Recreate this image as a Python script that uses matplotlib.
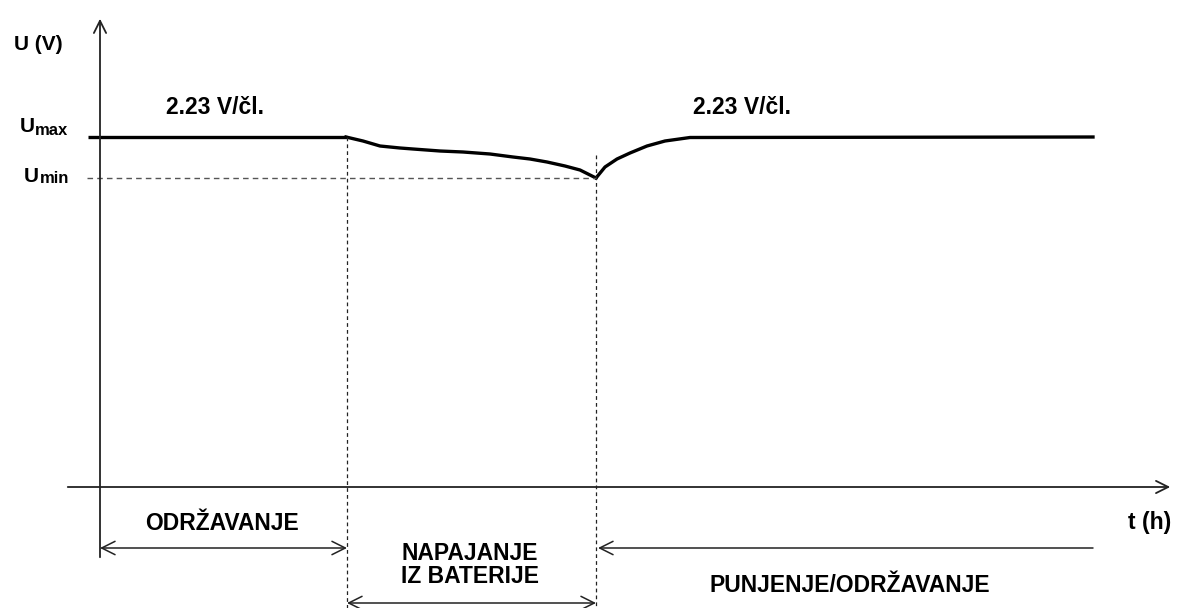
import numpy as np
from matplotlib import pyplot as plt

# schematic napona baterije: odrzavanje, napajanje iz baterije, punjenje
# jedinice su proizvoljne (1 jedinica ~ 1 piksel)

U_max = 350
U_min = 309

# granice faza na vremenskoj osi
t_granice = [0, 247, 496, 993]

# praznjenje (napajanje iz baterije)
t_praznjenje = [246, 263, 280, 300, 313, 340, 363, 390, 413, 430, 447, 465, 480, 496]
U_praznjenje = [350, 346, 341, 339, 338, 336, 335, 333, 330, 328, 325, 321, 317, 309]

# punjenje - oporavak napona
t_punjenje = [496, 505, 517, 530, 547, 565, 590, 993]
U_punjenje = [309, 320, 328, 334, 341, 346, 349.5, 350]

oznaka_napona = '2.23 V/čl.'

fig = plt.figure(figsize=(11.85, 6.08), dpi=100)
ax = fig.add_axes([0, 0, 1, 1])
ax.set_xlim(-100, 1085)
ax.set_ylim(-121, 487)
ax.axis('off')

font = 'Liberation Sans'
boja_osi = '#222222'

# osi sa strelicama
ax.annotate('', xy=(1073, 0), xytext=(-35, 0),
            arrowprops=dict(arrowstyle='->', color=boja_osi, lw=1.3, mutation_scale=22))
ax.annotate('', xy=(0, 471), xytext=(0, -73),
            arrowprops=dict(arrowstyle='->', color=boja_osi, lw=1.3, mutation_scale=22))

# kriva napona
ax.plot([-12, t_granice[1]], [U_max, U_max], color='black', lw=2.4, solid_capstyle='butt')
ax.plot(t_praznjenje, U_praznjenje, color='black', lw=2.4, solid_joinstyle='round')
ax.plot(t_punjenje, U_punjenje, color='black', lw=2.4, solid_joinstyle='round')

# isprekidane linije
ax.plot([-13, t_granice[2]], [U_min, U_min], color='#555555', lw=1.0, ls=(0, (4, 3)))
ax.plot([t_granice[1], t_granice[1]], [U_max, -121], color='#222222', lw=0.9, ls=(0, (3, 2.5)))
ax.plot([t_granice[2], t_granice[2]], [332, -121], color='#222222', lw=0.9, ls=(0, (3, 2.5)))

# strelice faza
strel = dict(color='#222222', lw=1.1, mutation_scale=24)
ax.annotate('', xy=(t_granice[1], -61), xytext=(t_granice[0], -61),
            arrowprops=dict(arrowstyle='<->', shrinkA=0, shrinkB=0, **strel))
ax.annotate('', xy=(t_granice[2], -116), xytext=(t_granice[1], -116),
            arrowprops=dict(arrowstyle='<->', shrinkA=0, shrinkB=0, **strel))
ax.annotate('', xy=(t_granice[2] + 2, -61), xytext=(t_granice[3], -61),
            arrowprops=dict(arrowstyle='->', shrinkA=0, shrinkB=0, **strel))

# tekst
tk = dict(fontfamily=font, fontweight='bold', fontsize=16.5, color='black')
mali = dict(fontfamily=font, fontweight='bold', fontsize=12, color='black')
ax.text(-62, 442, 'U (V)', ha='center', va='center', fontfamily=font,
        fontweight='bold', fontsize=15)
ax.text(115, 380, oznaka_napona, ha='center', va='center', **tk)
ax.text(642, 380, oznaka_napona, ha='center', va='center', **tk)
ax.text(-65, 355, 'U', ha='right', va='baseline', fontfamily=font, fontweight='bold', fontsize=15)
ax.text(-65, 352, 'max', ha='left', va='baseline', **mali)
ax.text(-61, 305, 'U', ha='right', va='baseline', fontfamily=font, fontweight='bold', fontsize=15)
ax.text(-60, 304, 'min', ha='left', va='baseline', **mali)
ax.text(122, -36, 'ODRŽAVANJE', ha='center', va='center', **tk)
ax.text(370, -78, 'NAPAJANJE\nIZ BATERIJE', ha='center', va='center', linespacing=1.0, **tk)
ax.text(750, -98, 'PUNJENJE/ODRŽAVANJE', ha='center', va='center', **tk)
ax.text(1050, -35, 't (h)', ha='center', va='center', **tk)

fig.savefig('out.png', dpi=100)
